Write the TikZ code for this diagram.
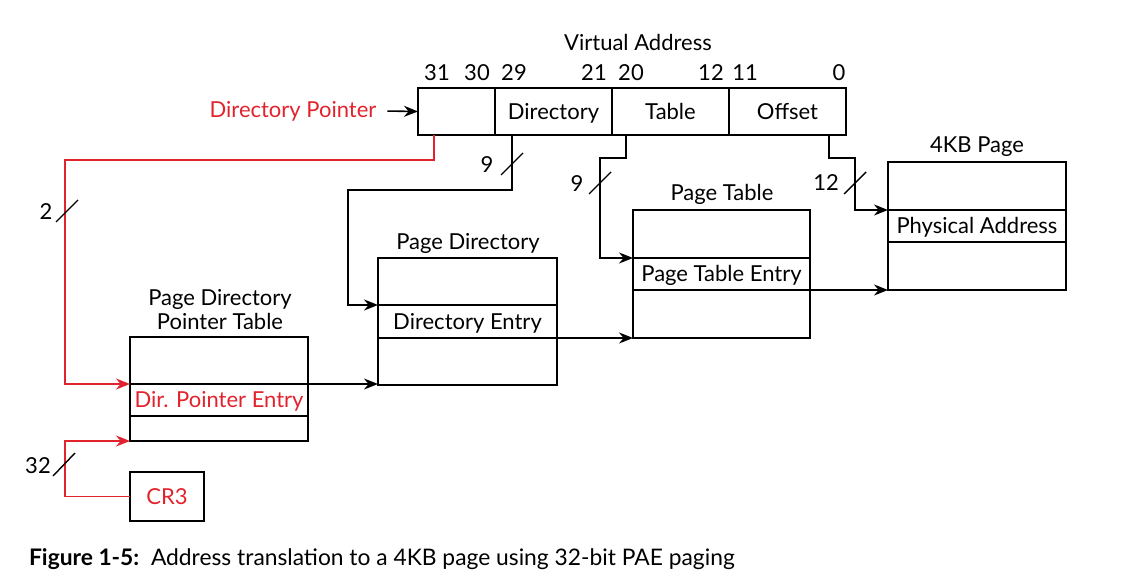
\documentclass[tikz,border=0pt]{standalone}
\usepackage{fontspec}
\setmainfont{Lato}
\usetikzlibrary{arrows.meta}
\definecolor{vared}{RGB}{226,35,45}

\begin{document}
\begin{tikzpicture}[x=0.5pt,y=-0.5pt,font=\fontsize{11}{12}\selectfont,
  cell/.style={draw,anchor=north west,inner sep=0pt,outer sep=0pt,line width=0.7pt,text height=1.8ex,text depth=0.3ex},
  wire/.style={line width=0.8pt,-{Stealth[length=7pt,width=5.5pt]}}]
\useasboundingbox (0,0) rectangle (1124,588);

% virtual address
\node (val) at (638,42) {Virtual Address};
\node (b31) at (437,73) {31};
\node (b30) at (477,73) {30};
\node (b29) at (514,73) {29};
\node (b21) at (594,73) {21};
\node (b20) at (631,73) {20};
\node (b12) at (711,73) {12};
\node (b11) at (745,73) {11};
\node (b0) at (839,73) {0};
\node[cell,minimum width=38.5pt,minimum height=23.5pt] (va1) at (418,88) {};
\node[cell,minimum width=58.5pt,minimum height=23.5pt] (va2) at (va1.north east) {Directory};
\node[cell,minimum width=58.5pt,minimum height=23.5pt] (va3) at (va2.north east) {Table};
\node[cell,minimum width=58.5pt,minimum height=23.5pt] (va4) at (va3.north east) {Offset};

\node[text=vared] (dp) at (293,111) {Directory Pointer};
\path[draw,wire,shorten <=2pt] (dp.east) -- (va1.west);

% page directory pointer table
\node[align=center] (bl) at (220,310) {Page Directory\\Pointer Table};
\node[cell,minimum width=89pt,minimum height=23.5pt] (b1) at (130,337) {};
\node[cell,minimum width=89pt,minimum height=16pt,text=vared] (b2) at (b1.south west) {Dir. Pointer Entry};
\node[cell,minimum width=89pt,minimum height=12.5pt] (b3) at (b2.south west) {};
\node[cell,minimum width=37pt,minimum height=24.5pt,text=vared] (c) at (130,472) {CR3};

% page directory
\node (dl) at (468,243) {Page Directory};
\node[cell,minimum width=89.5pt,minimum height=23.5pt] (d1) at (378,258) {};
\node[cell,minimum width=89.5pt,minimum height=16.5pt] (d2) at (d1.south west) {Directory Entry};
\node[cell,minimum width=89.5pt,minimum height=23.5pt] (d3) at (d2.south west) {};

% page table
\node (tl) at (722,194) {Page Table};
\node[cell,minimum width=88.5pt,minimum height=24pt] (t1) at (633,210) {};
\node[cell,minimum width=88.5pt,minimum height=16pt] (t2) at (t1.south west) {Page Table Entry};
\node[cell,minimum width=88.5pt,minimum height=24pt] (t3) at (t2.south west) {};

% 4KB page
\node (pl) at (977,147) {4KB Page};
\node[cell,minimum width=89pt,minimum height=24pt] (p1) at (888,162) {};
\node[cell,minimum width=89pt,minimum height=16pt] (p2) at (p1.south west) {Physical Address};
\node[cell,minimum width=89pt,minimum height=24pt] (p3) at (p2.south west) {};

% index bits
\path[draw,wire,vared] ([xshift=8pt]va1.south west) -- ++(0,25) -| (65,384) -- (b2.north west);
\path[draw,wire] ([xshift=8.5pt]va2.south west) -- ++(0,55) -| (348,305) -- (d2.north west);
\path[draw,wire] ([xshift=7pt]va3.south west) -- ++(0,23) -| (600,258) -- (t2.north west);
\path[draw,wire] ([xshift=-8.5pt]va4.south east) -- ++(0,23) -| (855,210) -- (p2.north west);
\path[draw,wire,vared] (c.west) -- ++(-65,0) |- (b3.south west);

% base addresses
\path[draw,wire] (b2.north east) -- (b2.north east -| d3.south west);
\path[draw,wire] (d2.south east) -- (d2.south east -| t3.south west);
\path[draw,wire] (t2.south east) -- (t2.south east -| p3.south west);

% bus widths
\draw[line width=0.7pt] (56,222) -- (78,200);
\node (w2) at (46,212) {2};
\draw[line width=0.7pt] (501,175) -- (523,153);
\node (w9a) at (487,165) {9};
\draw[line width=0.7pt] (589,194) -- (611,172);
\node (w9b) at (577,184) {9};
\draw[line width=0.7pt] (844,194) -- (866,172);
\node (w12) at (826,183) {12};
\draw[line width=0.7pt] (53,476) -- (75,453);
\node (w32) at (38,466) {32};

\node[anchor=west,font=\fontsize{11.4}{13}\selectfont] (cap) at (22,559) {\textbf{Figure 1-5:}\ \ Address translation to a 4KB page using 32-bit PAE paging};
\end{tikzpicture}
\end{document}
